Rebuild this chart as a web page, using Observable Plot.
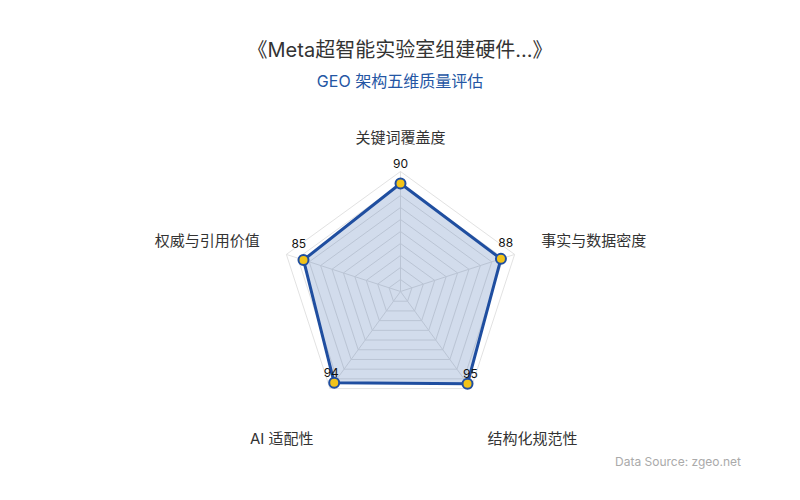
<!DOCTYPE html>
<html>
<head>
<meta charset="utf-8">
<script src="https://cdn.jsdelivr.net/npm/d3@7"></script>
<script src="https://cdn.jsdelivr.net/npm/@observablehq/plot@0.6"></script>
<style>
  html, body { margin: 0; padding: 0; background: #fff; }
  body { width: 800px; height: 500px; overflow: hidden; font-family: Inter, "Noto Sans CJK SC", sans-serif; }
  #title { margin-top: 36px; height: 28px; line-height: 28px; text-align: center; font-size: 20px; color: #333; }
  #subtitle { margin-top: 7px; height: 20px; line-height: 20px; text-align: center; font-size: 16px; color: #2456a4; }
  #chart { margin-top: 9px; height: 350px; }
  #caption { margin-top: 4px; height: 16px; line-height: 16px; text-align: right; padding-right: 59px; font-size: 12px; color: #aaa; }
</style>
</head>
<body>
<div id="title">《Meta超智能实验室组建硬件...》</div>
<div id="subtitle">GEO 架构五维质量评估</div>
<div id="chart"></div>
<div id="caption">Data Source: zgeo.net</div>
<script>
const axes = ["关键词覆盖度", "事实与数据密度", "结构化规范性", "AI 适配性", "权威与引用价值"];
const values = [90, 88, 95, 94, 85];
const maxValue = 100;
const ringLevels = [10, 20, 30, 40, 50, 60, 70, 80, 90, 100];

// geometry helpers (angles clockwise from top, screen convention)
const W = 800, H = 350, pxPerUnit = 1.2, cyPx = 191;
const angle = i => (-90 + 72 * i) * Math.PI / 180;
const px = (r, i) => r * Math.cos(angle(i));
const py = (r, i) => -r * Math.sin(angle(i));

const ringData = ringLevels.flatMap(level =>
  [...axes, axes[0]].map((a, k) => ({level, x: px(level, k % axes.length), y: py(level, k % axes.length)}))
);
const spokes = axes.map((a, i) => ({x1: 0, y1: 0, x2: px(maxValue, i), y2: py(maxValue, i)}));
const pts = axes.map((a, i) => ({axis: a, value: values[i], x: px(values[i], i), y: py(values[i], i),
  lx: px(values[i] + 5 / pxPerUnit, i), ly: py(values[i] + 5 / pxPerUnit, i)}));

const labelR = 148 / pxPerUnit;
const labels = axes.map((a, i) => {
  const c = Math.cos(angle(i)), s = Math.sin(angle(i));
  const extra = s > 0.5 ? 28 / pxPerUnit : -5 / pxPerUnit;
  return {axis: a, x: px(labelR, i), y: py(labelR, i) - extra,
    anchor: c > 0.1 ? "start" : c < -0.1 ? "end" : "middle"};
});

const xHalf = W / 2 / pxPerUnit;
const chart = Plot.plot({
  width: W, height: H,
  margin: 0,
  x: {domain: [-xHalf, xHalf], axis: null},
  y: {domain: [-(H - cyPx) / pxPerUnit, cyPx / pxPerUnit], axis: null},
  style: {fontFamily: 'Inter, "Noto Sans CJK SC", sans-serif', background: "transparent"},
  marks: [
    Plot.line(ringData, {x: "x", y: "y", z: "level", stroke: "#e2e2e2", strokeWidth: 1}),
    Plot.link(spokes, {x1: "x1", y1: "y1", x2: "x2", y2: "y2", stroke: "#e2e2e2", strokeWidth: 1}),
    Plot.area(pts, {x1: "x", y1: "y", x2: 0, y2: 0, curve: "linear-closed", fill: "#1f4ea0", fillOpacity: 0.2}),
    Plot.line(pts, {x: "x", y: "y", curve: "linear-closed", stroke: "#1f4ea0", strokeWidth: 3, strokeLinejoin: "round"}),
    Plot.dot(pts, {x: "x", y: "y", r: 5, fill: "#f2c318", stroke: "#1f4ea0", strokeWidth: 2}),
    Plot.text(pts, {x: "lx", y: "ly", text: d => String(d.value), dy: -14, fontSize: 12, fill: "#111"}),
    Plot.text(labels.filter(d => d.anchor === "start"), {x: "x", y: "y", text: "axis", textAnchor: "start", fontSize: 15, fill: "#333"}),
    Plot.text(labels.filter(d => d.anchor === "end"), {x: "x", y: "y", text: "axis", textAnchor: "end", fontSize: 15, fill: "#333"}),
    Plot.text(labels.filter(d => d.anchor === "middle"), {x: "x", y: "y", text: "axis", textAnchor: "middle", fontSize: 15, fill: "#333"})
  ]
});
document.getElementById("chart").appendChild(chart);
</script>
</body>
</html>
